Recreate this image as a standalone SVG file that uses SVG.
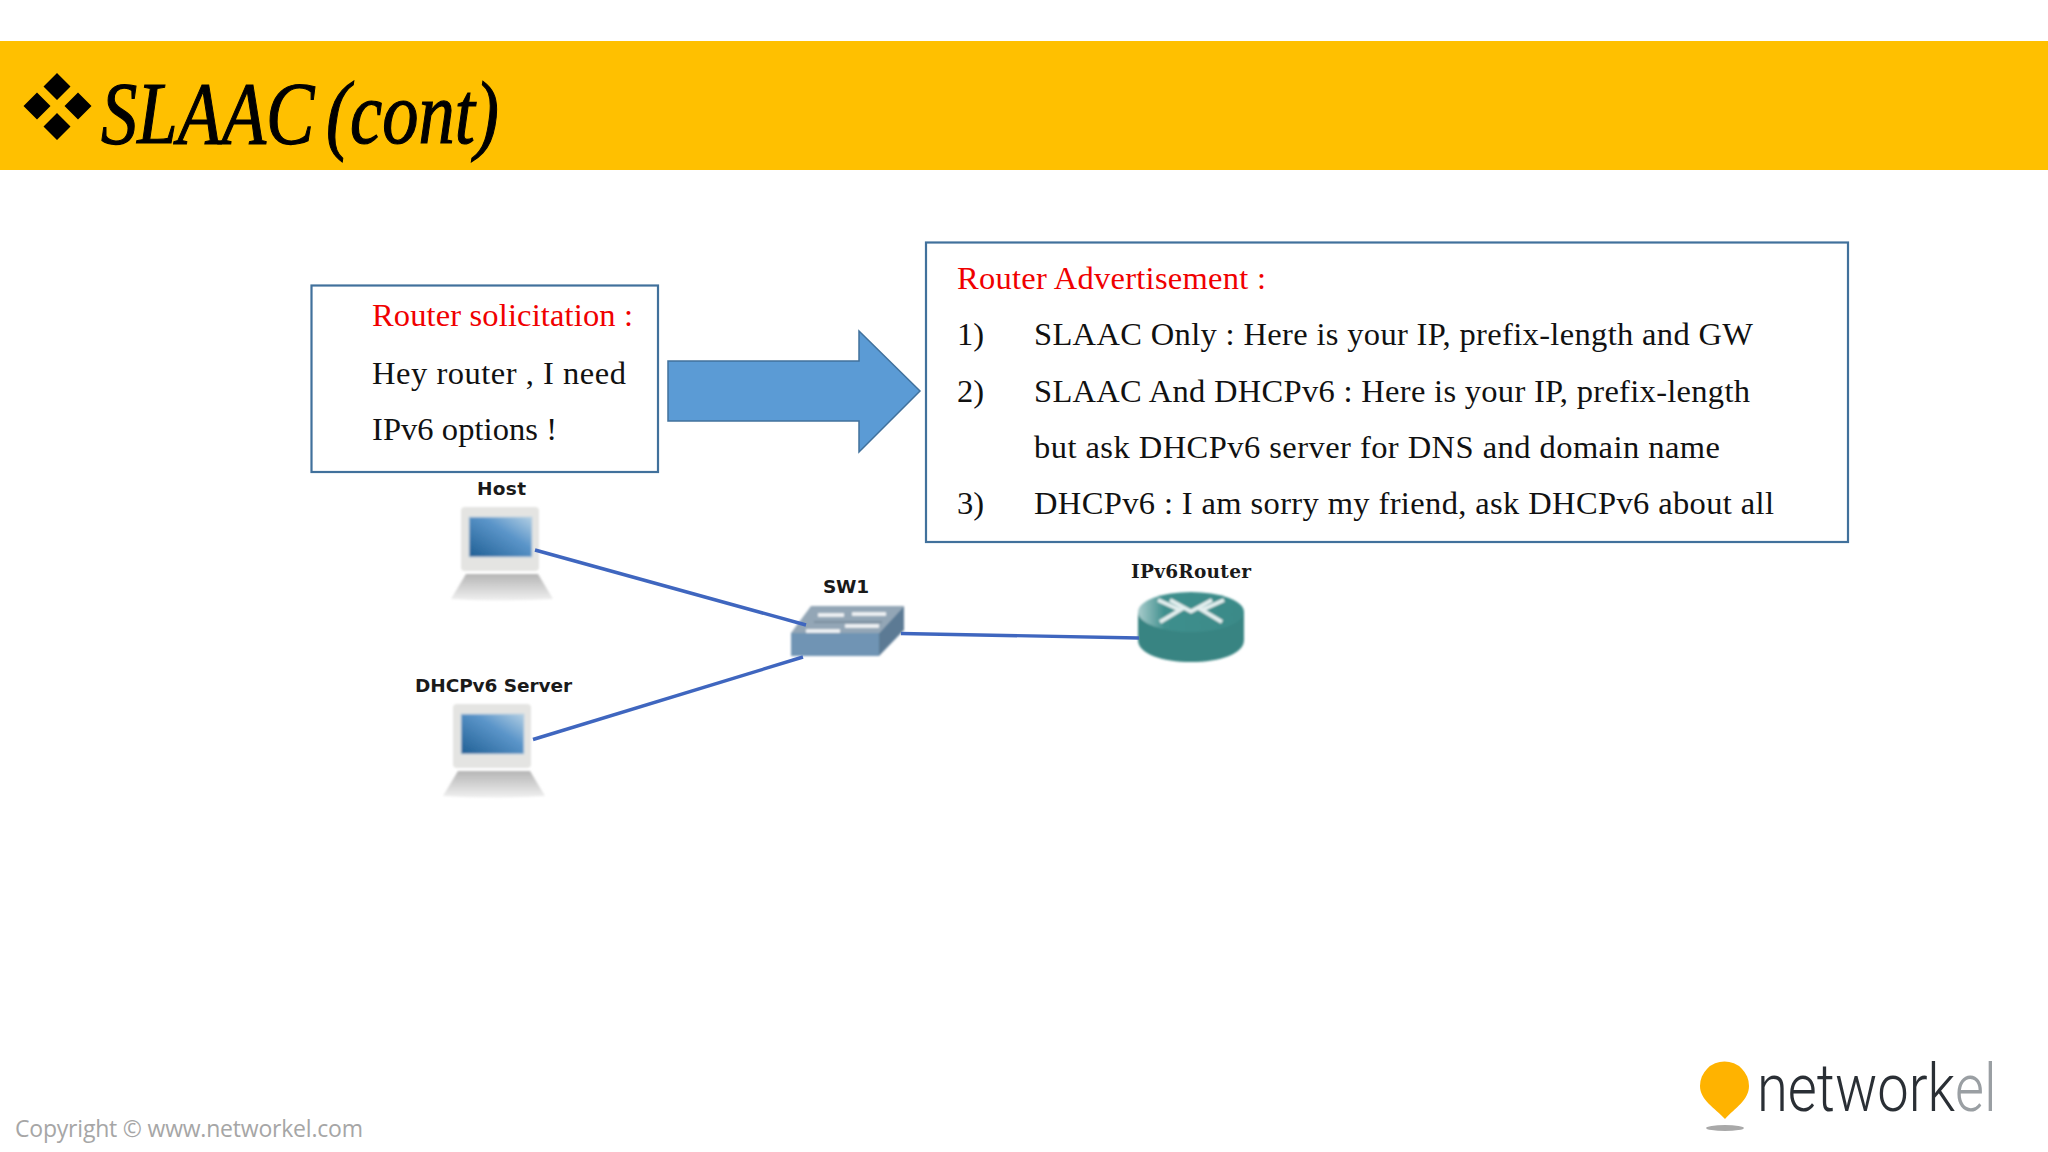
<svg xmlns="http://www.w3.org/2000/svg" width="2048" height="1152" viewBox="0 0 2048 1152">
<style>
.b{fill:#fff;stroke:#41719c;stroke-width:2.200}
.t{font-family:"Liberation Serif",serif;font-size:32.500px;fill:#111}
.r{fill:#f00000}
.l{font-family:"DejaVu Sans",sans-serif;font-weight:700;font-size:18.500px;fill:#1a1a1a;text-anchor:middle}
.c{stroke:#3f66bf;stroke-width:3.400;fill:none}
</style>
<defs>
<filter id="soft" x="-10%" y="-10%" width="120%" height="120%"><feGaussianBlur stdDeviation="0.9"/></filter>
<linearGradient id="scr" x1="0" y1="1" x2="1" y2="0"><stop offset="0" stop-color="#1f5f94"/><stop offset=".6" stop-color="#5b95c9"/><stop offset="1" stop-color="#b3cfe4"/></linearGradient>
<linearGradient id="bs" x1="0" y1="0" x2="0" y2="1"><stop offset="0" stop-color="#b5b5b5"/><stop offset="1" stop-color="#f0f0f0"/></linearGradient>
<linearGradient id="rt" x1="0" y1="0" x2="1" y2="0"><stop offset="0" stop-color="#a9cccc"/><stop offset=".25" stop-color="#3f8f8d"/><stop offset="1" stop-color="#3a8a88"/></linearGradient>
<g id="pc" filter="url(#soft)">
<rect x="461" y="507" width="78" height="64" rx="4" fill="#e4e4e2"/>
<rect x="469" y="517" width="63" height="40" fill="url(#scr)" stroke="#c3d5e0" stroke-width="1"/>
<path d="M466 574H538L553 599Q502 602 451 599Z" fill="url(#bs)"/>
</g>
</defs>
<rect width="2048" height="1152" fill="#fff"/>
<g id="title">
<rect y="41" width="2048" height="129" fill="#ffc000"/>
<path d="M57 73l13.500 13.500-13.500 13.500-13.500-13.500zM37 92.500l13.500 13.500-13.500 13.500-13.500-13.500zM78 92.500l13.500 13.500-13.500 13.500-13.500-13.500zM57 113l13.500 13.500-13.500 13.500-13.500-13.500z" fill="#000"/>
<text x="101" y="143" font-family="'Liberation Serif',serif" font-style="italic" font-size="88" fill="#000" stroke="#000" stroke-width="1.200" textLength="398" lengthAdjust="spacingAndGlyphs" word-spacing="-8">SLAAC (cont)</text>
</g>
<g id="solicitation">
<rect class="b" x="311.500" y="285.500" width="346.500" height="186.500"/>
<text class="t r" x="372" y="326" textLength="261">Router solicitation :</text>
<text class="t" x="372" y="383.500" textLength="254">Hey router , I need</text>
<text class="t" x="372" y="439.500" textLength="185">IPv6 options !</text>
</g>
<g id="arrow"><path d="M668 361H859V331L920 391L859 452V421H668Z" fill="#5b9bd5" stroke="#41719c" stroke-width="1.500"/></g>
<g id="advertisement">
<rect class="b" x="926" y="242.500" width="922" height="299.500"/>
<text class="t r" x="957" y="288.500" textLength="309">Router Advertisement :</text>
<text class="t" x="957" y="345">1)</text><text class="t" x="1034" y="345" textLength="719">SLAAC Only : Here is your IP, prefix-length and GW</text>
<text class="t" x="957" y="401.500">2)</text><text class="t" x="1034" y="401.500" textLength="716">SLAAC And DHCPv6 : Here is your IP, prefix-length</text>
<text class="t" x="1034" y="458" textLength="686">but ask DHCPv6 server for DNS and domain name</text>
<text class="t" x="957" y="514">3)</text><text class="t" x="1034" y="514" textLength="740">DHCPv6 : I am sorry my friend, ask DHCPv6 about all</text>
</g>
<g id="host"><text class="l" x="501.500" y="495" textLength="49">Host</text><use href="#pc"/></g>
<g id="dhcp"><text class="l" x="493.500" y="692" textLength="157">DHCPv6 Server</text><use href="#pc" transform="translate(-8 197)"/></g>
<g id="sw1">
<text class="l" x="846" y="593" textLength="46">SW1</text>
<g filter="url(#soft)">
<path d="M791 633L811 606H904L879 633Z" fill="#93a6b6"/>
<path d="M791 633H879V656H791Z" fill="#7094b4"/>
<path d="M879 633L904 606V630L879 656Z" fill="#5c7a94"/>
<path d="M806 631h34M818 615h26M852 614h34M845 626h34" stroke="#f4f6f8" stroke-width="3.500" fill="none"/>
<path d="M814 622h68" stroke="#7b8f9f" stroke-width="2"/>
</g>
</g>
<g id="router">
<text class="l" x="1191" y="578" textLength="120" style="font-family:'DejaVu Serif',serif">IPv6Router</text>
<g filter="url(#soft)">
<path d="M1138 612V640C1138 654 1162 662 1191 662S1244 654 1244 640V612Z" fill="#378482"/>
<ellipse cx="1191" cy="612" rx="53" ry="20" fill="url(#rt)"/>
<path d="M1158 600L1180 610L1160 622M1224 600L1202 610L1222 622M1170 600L1192 612M1212 600L1190 612" stroke="#e3eeee" stroke-width="4" fill="none"/>
</g>
</g>
<g id="connectors">
<line class="c" x1="535" y1="550" x2="806" y2="625"/>
<line class="c" x1="533" y1="739.500" x2="803" y2="657"/>
<line class="c" x1="901" y1="633.500" x2="1139" y2="638"/>
</g>
<g id="logo">
<ellipse cx="1725" cy="1128" rx="19" ry="3" fill="#a9a9a9"/>
<path d="M1725 1119C1715 1108 1700 1100 1700 1086A24.500 24.500 0 0 1 1749 1086C1749 1100 1735 1108 1725 1119Z" fill="#ffb300"/>
<text transform="translate(1757 1111) scale(.85 1)" font-family="Roboto,sans-serif" font-weight="300" font-size="66" fill="#2a2f35">network<tspan fill="#9a9fa3">el</tspan></text>
</g>
<g id="copyright"><text x="15" y="1137" font-family="'Open Sans',sans-serif" font-size="23" fill="#a6a6a6" textLength="348">Copyright © www.networkel.com</text></g>
</svg>
